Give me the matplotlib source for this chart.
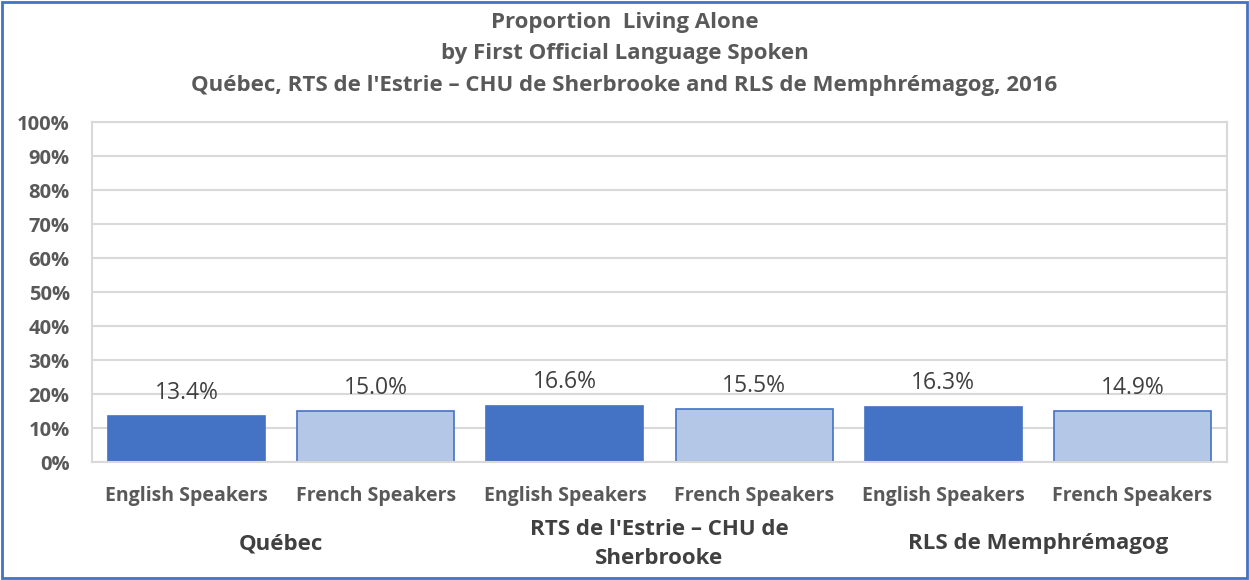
#!/usr/bin/python3

import numpy as np
import matplotlib
import matplotlib.pyplot as plt
from matplotlib.patches import Rectangle
from matplotlib.ticker import PercentFormatter
import matplotlib.transforms as mtransforms

matplotlib.use("Agg")

TITLE = ("Proportion  Living Alone\n"
         "by First Official Language Spoken\n"
         "Québec, RTS de l'Estrie \u2013 CHU de Sherbrooke and RLS de Memphrémagog, 2016")
regions = ["Québec", "RTS de l'Estrie \u2013 CHU de\nSherbrooke", "RLS de Memphrémagog"]
speakers = ["English Speakers", "French Speakers"]
values = [13.4, 15.0, 16.6, 15.5, 16.3, 14.9]

DARK = "#4472C4"
LIGHT = "#B4C7E7"
GREY = "#595959"
GRID = "#D9D9D9"

plt.rcParams["font.family"] = ["Open Sans", "DejaVu Sans"]


def main():
    fig = plt.figure(figsize=(12.49, 5.80), dpi=100)
    fig.patches.append(Rectangle((0.002, 0.003), 0.996, 0.994, transform=fig.transFigure,
                                 fill=False, edgecolor=DARK, linewidth=2))

    ax = fig.add_axes([92 / 1249, 1 - 462 / 580, 1135 / 1249, 340 / 580])
    x = np.arange(len(values))
    colors = [DARK if i % 2 == 0 else LIGHT for i in x]
    ax.bar(x, values, width=0.83, color=colors, edgecolor=DARK, linewidth=1.2, zorder=2)

    for xi, v in zip(x, values):
        ax.annotate(f"{v:.1f}%", (xi, v), xytext=(0, 8), textcoords="offset points",
                    ha="center", va="bottom", fontsize=16.5, color="#404040")

    ax.set_xlim(-0.5, len(values) - 0.5)
    ax.set_ylim(0, 100)
    ax.set_yticks(np.arange(0, 101, 10))
    ax.yaxis.set_major_formatter(PercentFormatter(decimals=0))
    ax.grid(axis="y", color=GRID, linewidth=1.5, zorder=0)
    ax.set_axisbelow(True)
    for s in ax.spines.values():
        s.set_color(GRID)
        s.set_linewidth(1.5)
    ax.tick_params(length=0)
    ax.tick_params(axis="y", pad=16, labelsize=14.5, labelcolor=GREY)
    ax.tick_params(axis="x", pad=17, labelsize=14, labelcolor=GREY)
    ax.set_xticks(x)
    ax.set_xticklabels([speakers[i % 2] for i in x])
    for lbl in ax.get_xticklabels() + ax.get_yticklabels():
        lbl.set_fontweight("bold")

    trans = mtransforms.blended_transform_factory(ax.transData, fig.transFigure)
    for i, name in enumerate(regions):
        ax.text(2 * i + 0.5, 1 - 544 / 580, name, transform=trans, ha="center", va="center",
                fontsize=16, fontweight="bold", color="#404040", linespacing=1.55)

    fig.text(0.5, 1 - 54 / 580, TITLE, ha="center", va="center", fontsize=16,
             fontweight="bold", color=GREY, linespacing=1.65)

    fig.savefig("out.png", dpi=100)


if __name__ == "__main__":
    main()
